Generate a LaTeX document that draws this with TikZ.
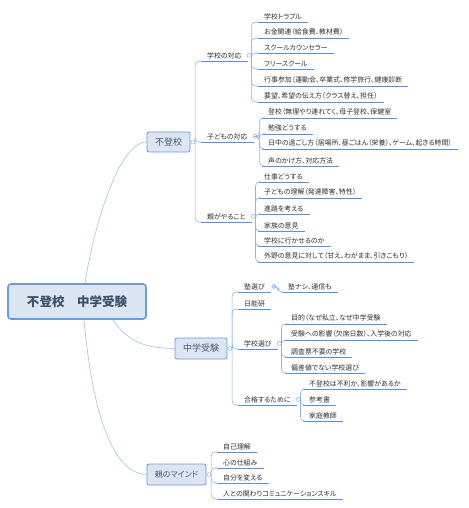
\documentclass[tikz,border=0pt]{standalone}
\usepackage{fontspec}
\setmainfont{Noto Sans CJK JP}[RawFeature=+palt]
\definecolor{ulc}{HTML}{5B8FD6}
\definecolor{cnc}{HTML}{9DC0EA}
\definecolor{spc}{HTML}{8DB3E2}
\definecolor{bxf}{HTML}{DCE6F2}
\definecolor{bxd}{HTML}{6A9AD8}
\definecolor{txc}{HTML}{2E2E2E}
\definecolor{bxt}{HTML}{4A5A72}
\definecolor{rtt}{HTML}{3D4F6B}
\tikzset{
  leaf/.style={anchor=south west, font=\fontsize{6.9}{7.7}\selectfont, text=txc,
    inner xsep=6pt, inner ysep=2.2pt,
    append after command={(\tikzlastnode.south west) edge[ul] (\tikzlastnode.south east)}},
  ul/.style={draw=ulc, line width=0.9pt},
  mainbox/.style={draw=bxd, fill=bxf, rounded corners=2pt, line width=0.8pt,
    text=bxt, font=\fontsize{9}{10}\selectfont, inner sep=0pt},
  rootbox/.style={draw=bxd, fill=bxf, rounded corners=3pt, line width=1.6pt,
    text=rtt, font=\fontsize{12.5}{14}\selectfont\bfseries, inner sep=0pt,
    minimum width=138pt, minimum height=35pt},
  knob/.style={circle, draw=spc, fill=white, line width=0.5pt, inner sep=0pt, minimum size=4pt},
  conn/.style={draw=spc, line width=0.6pt, rounded corners=4pt},
  curve/.style={draw=cnc, line width=0.6pt}
}
\begin{document}
\begin{tikzpicture}[x=1pt,y=-1pt]
\useasboundingbox (0,0) rectangle (468,508);
% main boxes
\node[rootbox] (root) at (77,301.5) {不登校　中学受験};
\node[mainbox, minimum width=43pt, minimum height=20pt] (A) at (168.5,142) {不登校};
\node[mainbox, minimum width=52pt, minimum height=21pt] (B) at (201,348.5) {中学受験};
\node[mainbox, minimum width=59pt, minimum height=21pt, font=\fontsize{8}{9}\selectfont] (C) at (176.5,474.5) {親のマインド};
\draw[curve] ([xshift=8pt]root.north) .. controls (95,220) and (120,142) .. (A.west);
\draw[curve] ([xshift=36pt]root.south) .. controls (130,345) and (150,348) .. (B.west);
\draw[curve] ([xshift=7pt]root.south) .. controls (92,410) and (112,474) .. (C.west);
\node[knob] (kA) at ([xshift=2.5pt]A.east) {};
\node[knob] (kB) at ([xshift=2.5pt]B.east) {};
\node[knob] (kC) at ([xshift=2.5pt]C.east) {};

% 不登校 branch
\node[leaf] (s1) at (201,61) {学校の対応};
\node[leaf] (s2) at (201,142) {子どもの対応};
\node[leaf] (s3) at (201,222) {親がやること};
\foreach \n in {s1,s2,s3} \draw[conn] (kA.east) |- (\n.south west);
\node[knob] (k1) at ([xshift=1.5pt]s1.east) {};
\node[knob] (k2) at ([xshift=1.5pt]s2.east) {};
\node[knob] (k3) at ([xshift=1.5pt]s3.east) {};

\node[leaf] (a1) at (258,22) {学校トラブル};
\node[leaf] (a2) at (258,38) {お金関連（給食費、教材費）};
\node[leaf] (a3) at (258,53) {スクールカウンセラー};
\node[leaf] (a4) at (258,69) {フリースクール};
\node[leaf] (a5) at (258,86) {行事参加（運動会、卒業式、修学旅行、健康診断};
\node[leaf] (a6) at (258,102) {要望、希望の伝え方（クラス替え、担任）};
\foreach \n in {a1,a2,a3,a4,a5,a6} \draw[conn] (k1.east) |- (\n.south west);

\node[leaf] (b1) at (262,118) {登校（無理やり連れてく、母子登校、保健室};
\node[leaf] (b2) at (262,134) {勉強どうする};
\node[leaf] (b3) at (262,149) {日中の過ごし方（居場所、昼ごはん（栄養）、ゲーム、起きる時間）};
\node[leaf] (b4) at (262,166) {声のかけ方、対応方法};
\foreach \n in {b1,b2,b3,b4} \draw[conn] (k2.east) -- ++(2,0) |- (\n.south west);

\node[leaf] (c1) at (258,182) {仕事どうする};
\node[leaf] (c2) at (258,198) {子どもの理解（発達障害、特性）};
\node[leaf] (c3) at (258,214) {進路を考える};
\node[leaf] (c4) at (258,231) {家族の意見};
\node[leaf] (c5) at (258,246) {学校に行かせるのか};
\node[leaf] (c6) at (258,262) {外野の意見に対して（甘え、わがまま、引きこもり）};
\foreach \n in {c1,c2,c3,c4,c5,c6} \draw[conn] (k3.east) |- (\n.south west);

% 中学受験 branch
\node[leaf] (t1) at (238,292) {塾選び};
\node[leaf] (t2) at (238,309) {日能研};
\node[leaf] (t3) at (238,349) {学校選び};
\node[leaf] (t4) at (238,405) {合格するために};
\foreach \n in {t1,t2,t3,t4} \draw[conn] (kB.east) |- (\n.south west);
\node[knob, fill=bxf] (m1) at ([xshift=3pt]t1.east) {};
\node[knob] (m3) at ([xshift=1.5pt]t3.east) {};
\node[knob] (m4) at ([xshift=1.5pt]t4.east) {};

\node[leaf] (u1) at (282,292) {塾ナシ、通信も};
\draw[conn] (m1.east) -- ++(2,0) |- (u1.south west);

\node[leaf] (v1) at (285,324) {目的（なぜ私立、なぜ中学受験};
\node[leaf] (v2) at (285,340) {受験への影響（欠席日数）、入学後の対応};
\node[leaf] (v3) at (285,357) {調査票不要の学校};
\node[leaf] (v4) at (285,373) {偏差値でない学校選び};
\foreach \n in {v1,v2,v3,v4} \draw[conn] (m3.east) |- (\n.south west);

\node[leaf] (w1) at (303,389) {不登校は不利か、影響があるか};
\node[leaf] (w2) at (303,405) {参考書};
\node[leaf] (w3) at (303,421) {家庭教師};
\foreach \n in {w1,w2,w3} \draw[conn] (m4.east) |- (\n.south west);

% 親のマインド branch
\node[leaf] (p1) at (217,452) {自己理解};
\node[leaf] (p2) at (217,468) {心の仕組み};
\node[leaf] (p3) at (217,483) {自分を変える};
\node[leaf] (p4) at (217,499) {人との関わりコミュニケーションスキル};
\foreach \n in {p1,p2,p3,p4} \draw[conn] (kC.east) |- (\n.south west);
\end{tikzpicture}
\end{document}
